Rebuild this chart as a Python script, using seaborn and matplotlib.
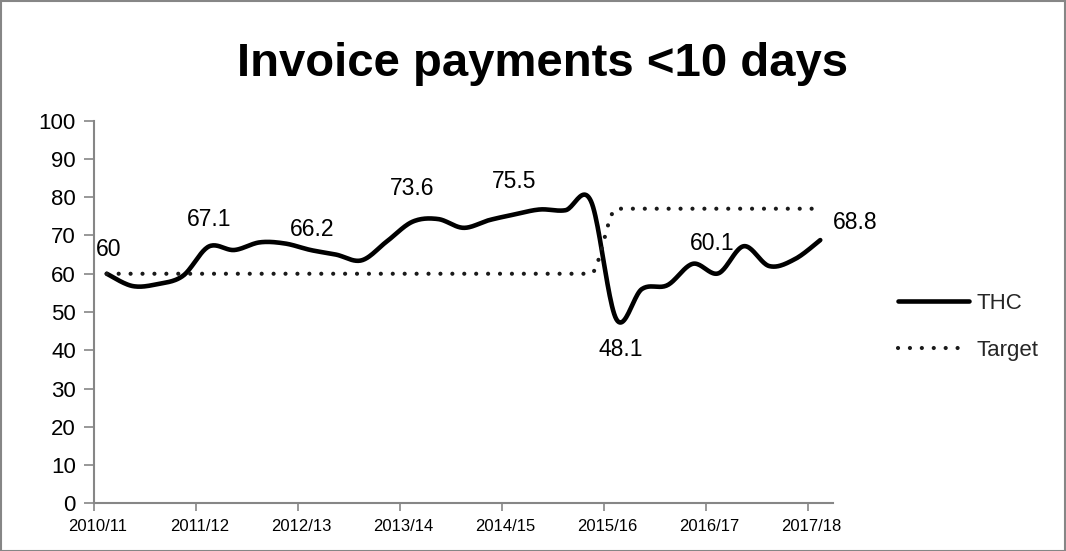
import numpy as np
import pandas as pd
import matplotlib
matplotlib.use("Agg")
import matplotlib.pyplot as plt
from matplotlib.patches import Rectangle
import seaborn as sns

# ---------------- data ----------------
year_labels = ["2010/11", "2011/12", "2012/13", "2013/14",
               "2014/15", "2015/16", "2016/17", "2017/18"]

# quarterly THC values (29 points, 4 per year)
thc = [60.0, 56.8, 57.3, 59.5,
       67.1, 66.2, 68.2, 67.9,
       66.2, 65.0, 63.5, 68.5,
       73.6, 74.3, 72.0, 74.0,
       75.5, 76.8, 76.6, 79.0,
       48.1, 56.0, 57.0, 62.6,
       60.1, 67.2, 62.0, 63.8,
       68.8]

target = [60, 60, 60, 60,
          60, 60, 60, 60,
          60, 60, 60, 60,
          60, 60, 60, 60,
          60, 60, 60, 60,
          77, 77, 77, 77,
          77, 77, 77, 77,
          77]

labelled_idx = [0, 4, 8, 12, 16, 20, 24, 28]
label_text = ["60", "67.1", "66.2", "73.6", "75.5", "48.1", "60.1", "68.8"]
# label offsets in pixels (styling)
label_offsets = [(2, 24), (0, 27), (2, 21), (0, 33), (0, 33), (4, -30), (-6, 30), (35, 18)]


def smooth(values, n=24, monotone=False):
    """Excel-like Bezier smoothing through the data points."""
    y = np.asarray(values, dtype=float)
    x = np.arange(len(y), dtype=float)
    P = np.column_stack([x, y])
    N = len(P)
    T = np.zeros_like(P)
    for i in range(N):
        p0 = P[i - 1] if i > 0 else P[i]
        p2 = P[i + 1] if i + 1 < N else P[i]
        T[i] = (p2 - p0) / 6.0
        if monotone and 0 < i < N - 1:
            d1 = P[i, 1] - P[i - 1, 1]
            d2 = P[i + 1, 1] - P[i, 1]
            if d1 * d2 <= 0:
                T[i, 1] = 0.0
    out = []
    t = np.linspace(0, 1, n)[:, None]
    for i in range(N - 1):
        p1, p2 = P[i], P[i + 1]
        c1 = p1 + T[i]
        c2 = p2 - T[i + 1]
        seg = ((1 - t) ** 3) * p1 + 3 * ((1 - t) ** 2) * t * c1 + \
              3 * (1 - t) * t ** 2 * c2 + t ** 3 * p2
        if i > 0:
            seg = seg[1:]
        out.append(seg)
    out = np.vstack(out)
    return out[:, 0], out[:, 1]


sns.set_theme(style="white")
plt.rcParams["font.family"] = ["Liberation Sans", "DejaVu Sans"]

W, H = 1066, 551
fig = plt.figure(figsize=(W / 100, H / 100), dpi=100)
ax_left, ax_bottom = 94 / W, (H - 503.3) / H
ax_w, ax_h = (833 - 94) / W, (503.3 - 120.7) / H
ax = fig.add_axes([ax_left, ax_bottom, ax_w, ax_h])

xs, ys = smooth(thc)
xt, yt = smooth(target, monotone=True)
df_thc = pd.DataFrame({"x": xs, "y": ys})
df_tg = pd.DataFrame({"x": xt, "y": yt})

sns.lineplot(data=df_thc, x="x", y="y", ax=ax, color="black", lw=3.3,
             sort=False, estimator=None, label="THC",
             solid_capstyle="round", solid_joinstyle="round")
sns.lineplot(data=df_tg, x="x", y="y", ax=ax, color="#1a1a1a", lw=3.0,
             sort=False, estimator=None, label="Target",
             linestyle=(0, (0.01, 2.85)), dash_capstyle="round")

# data labels
for idx, txt, (dx, dy) in zip(labelled_idx, label_text, label_offsets):
    ax.annotate(txt, xy=(idx, thc[idx]), xytext=(dx, dy),
                textcoords="offset pixels", ha="center", va="center",
                fontsize=16.5, color="black")

ax.set_xlim(-0.5, 28.5)
ax.set_ylim(0, 100)
ax.set_yticks(np.arange(0, 101, 10))
ax.set_yticklabels([str(v) for v in range(0, 101, 10)], fontsize=16)

# tick marks at year boundaries, labels slightly to the right
tick_pos = [-0.5 + 4 * k for k in range(len(year_labels))]
ax.set_xticks(tick_pos, minor=True)
ax.set_xticks([p + 0.15 for p in tick_pos])
ax.set_xticklabels(year_labels, fontsize=12)
ax.tick_params(axis="x", which="major", length=0, pad=11, colors="black")
ax.tick_params(axis="x", which="minor", length=6, width=1.2, color="#868686",
               direction="out", bottom=True)
ax.tick_params(axis="y", length=7, width=1.2, color="#868686", direction="out",
               pad=6, left=True)
for lab in ax.get_yticklabels():
    lab.set_color("black")

ax.set_xlabel("")
ax.set_ylabel("")
for s in ["top", "right"]:
    ax.spines[s].set_visible(False)
for s in ["left", "bottom"]:
    ax.spines[s].set_color("#868686")
    ax.spines[s].set_linewidth(1.5)
ax.grid(False)

leg = ax.legend(loc="center left", bbox_to_anchor=(898 / W, 1 - 327 / H),
                bbox_transform=fig.transFigure, frameon=False, fontsize=16,
                handlelength=3.2, handletextpad=0.35, labelspacing=1.15,
                borderpad=0, borderaxespad=0)

fig.text(543 / W, 1 - 64 / H, "Invoice payments <10 days", ha="center",
         va="center", fontsize=34, fontweight="bold", color="black")

fig.patches.append(Rectangle((0.5 / W, 0.5 / H), 1 - 1.5 / W, 1 - 1.5 / H,
                             transform=fig.transFigure, fill=False,
                             edgecolor="#868686", lw=1.5))

fig.savefig("out.png", dpi=100)
